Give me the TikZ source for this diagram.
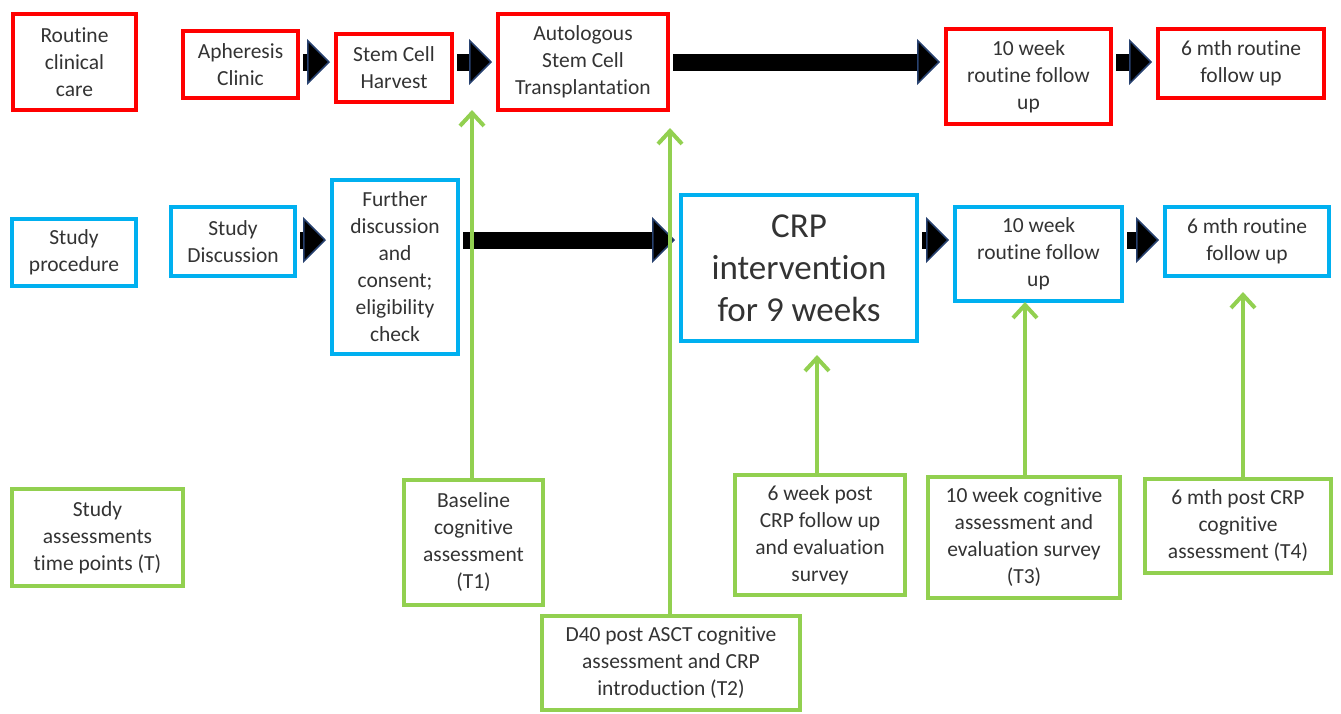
\documentclass[tikz,border=0pt]{standalone}
\usepackage{fontspec}
\setmainfont{Carlito}[RawFeature={-liga;-calt;-dlig}]
\usepackage{tikz}
\usetikzlibrary{arrows.meta}

\definecolor{carered}{RGB}{255,0,0}
\definecolor{studyblue}{RGB}{0,176,240}
\definecolor{assessgreen}{RGB}{146,208,80}
\definecolor{arrowedge}{RGB}{40,66,112}

\begin{document}
\begin{tikzpicture}[x=1pt, y=-1pt,
    box/.style={draw, line width=4pt, align=center, inner sep=0pt, text=black!80,
        font=\fontsize{21.5}{27}\selectfont},
    redbox/.style={box, draw=carered},
    bluebox/.style={box, draw=studyblue},
    greenbox/.style={box, draw=assessgreen},
    blockarrow/.style={draw=black, line width=17pt, shorten <=3pt, shorten >=4pt,
        -{Triangle[length=23pt, width=46pt, line width=1.5pt, fill=black, color=arrowedge]}},
    uparrow/.style={draw=assessgreen, line width=4pt,
        -{Straight Barb[length=13pt, width=24pt]}}]
\useasboundingbox (0,0) rectangle (1341,713);

% Routine clinical care
\node[redbox, minimum width=123, minimum height=96] (routine) at (74.5,62) {Routine\\clinical\\care};
\node[redbox, minimum width=115, minimum height=67] (apheresis) at (240.5,64.5) {Apheresis\\Clinic};
\node[redbox, minimum width=116, minimum height=68] (harvest) at (394,68) {Stem Cell\\Harvest};
\node[redbox, minimum width=170, minimum height=96] (asct) at (583,62) {Autologous\\Stem Cell\\Transplantation};
\node[redbox, minimum width=165, minimum height=95] (tenwk) at (1028.5,76.5) {10 week\\routine follow\\up};
\node[redbox, minimum width=166, minimum height=69] (sixmth) at (1241,63.5) {6 mth routine\\follow up};

% Study procedure
\node[bluebox, minimum width=124, minimum height=67] (procedure) at (74,252.5) {Study\\procedure};
\node[bluebox, minimum width=124, minimum height=69] (discussion) at (233,241.5) {Study\\Discussion};
\node[bluebox, minimum width=126, minimum height=174] (consent) at (395,267) {Further\\discussion\\and\\consent;\\eligibility\\check};
\node[bluebox, minimum width=236, minimum height=146, font=\fontsize{35}{42}\selectfont] (crp) at (799,268) {CRP\\intervention\\for 9 weeks};
\node[bluebox, minimum width=167, minimum height=94] (studytenwk) at (1038.5,254) {10 week\\routine follow\\up};
\node[bluebox, minimum width=164, minimum height=69] (studysixmth) at (1247,241.5) {6 mth routine\\follow up};

% Study assessments time points
\node[greenbox, minimum width=171, minimum height=97] (timepoints) at (97.5,537.5) {Study\\assessments\\time points (T)};
\node[greenbox, minimum width=139, minimum height=125] (tone) at (473.5,542.5) {Baseline\\cognitive\\assessment\\(T1)};
\node[greenbox, minimum width=258, minimum height=94] (ttwo) at (671,663) {D40 post ASCT cognitive\\assessment and CRP\\introduction (T2)};
\node[greenbox, minimum width=170, minimum height=120] (sixwk) at (820,535) {6 week post\\CRP follow up\\and evaluation\\survey};
\node[greenbox, minimum width=192, minimum height=121] (tthree) at (1024,537.5) {10 week cognitive\\assessment and\\evaluation survey\\(T3)};
\node[greenbox, minimum width=186, minimum height=94] (tfour) at (1238,526) {6 mth post CRP\\cognitive\\assessment (T4)};

% rows of the block arrows
\coordinate (toprow) at (0,62);
\coordinate (studyrow) at (0,240);

\draw[blockarrow] (apheresis.east |- toprow) -- (harvest.west |- toprow);
\draw[blockarrow] (harvest.east |- toprow) -- (asct.west |- toprow);
\draw[blockarrow] (asct.east |- toprow) -- (tenwk.west |- toprow);
\draw[blockarrow] (tenwk.east |- toprow) -- (sixmth.west |- toprow);

\draw[blockarrow] (discussion.east |- studyrow) -- (consent.west |- studyrow);
\draw[blockarrow] (consent.east |- studyrow) -- (crp.west |- studyrow);
\draw[blockarrow] (crp.east |- studyrow) -- (studytenwk.west |- studyrow);
\draw[blockarrow] (studytenwk.east |- studyrow) -- (studysixmth.west |- studyrow);

% time points
\coordinate (tonetip) at (472,110);
\coordinate (ttwotip) at (670,128);
\coordinate (sixwktip) at (817,355);
\coordinate (tthreetip) at (1025,302);
\coordinate (tfourtip) at (1243,292);

\draw[uparrow] (tone.north -| tonetip) -- (tonetip);
\draw[uparrow] (ttwo.north -| ttwotip) -- (ttwotip);
\draw[uparrow] (sixwk.north -| sixwktip) -- (sixwktip);
\draw[uparrow] (tthree.north -| tthreetip) -- (tthreetip);
\draw[uparrow] (tfour.north -| tfourtip) -- (tfourtip);
\end{tikzpicture}
\end{document}
